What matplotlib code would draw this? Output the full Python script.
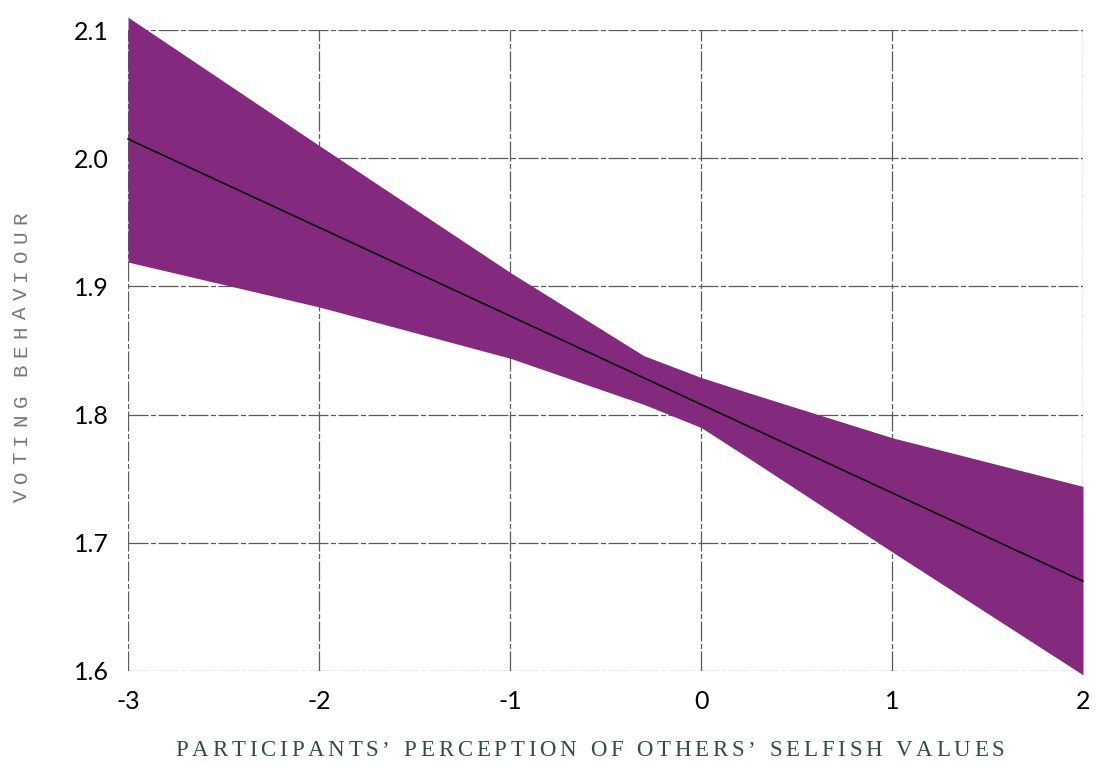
import matplotlib
matplotlib.use("Agg")
import matplotlib.pyplot as plt

plt.rcParams['axes.unicode_minus'] = False

# regression line and its confidence band
fit_x = [-3, 2]
fit_y = [2.015, 1.670]

band_x = [-3, -2, -1, -0.3, 0, 0.25, 1, 2]
band_hi = [2.110, 2.010, 1.911, 1.846, 1.829, 1.817, 1.782, 1.744]
band_lo = [1.919, 1.884, 1.844, 1.808, 1.790, 1.766, 1.693, 1.597]

x_ticks = [-3, -2, -1, 0, 1, 2]
y_ticks = [1.6, 1.7, 1.8, 1.9, 2.0, 2.1]
y_ticklabels = ['1.6', '1.7', '1.8', '1.9', '2.0', '2.1']

x_label = "PARTICIPANTS\u2019 PERCEPTION OF OTHERS\u2019 SELFISH VALUES"
y_label = "VOTING BEHAVIOUR"

W, H = 1097, 776
fig = plt.figure(figsize=(W / 100, H / 100), dpi=100)
ax = fig.add_axes([128 / W, 1 - 671 / H, (1083 - 128) / W, (671 - 30) / H])

# grid drawn by hand so the border is part of it
grid_kw = dict(color='#5a5a5a', lw=0.9, linestyle=(0, (16, 2, 4, 2)), zorder=1)
for xv in x_ticks:
    ax.axvline(xv, **grid_kw)
for yv in y_ticks:
    ax.axhline(yv, **grid_kw)

ax.fill_between(band_x, band_lo, band_hi, color='#832a7e', lw=0, zorder=2, clip_on=False)
ax.plot(fit_x, fit_y, color='black', lw=1.1, zorder=3, clip_on=False)

ax.set_xlim(-3, 2)
ax.set_ylim(1.6, 2.1)
ax.set_xticks(x_ticks)
ax.set_xticklabels([str(v) for v in x_ticks])
ax.set_yticks(y_ticks)
ax.set_yticklabels(y_ticklabels)
for s in ax.spines.values():
    s.set_visible(False)
ax.tick_params(length=0, labelsize=18, colors='black')
ax.tick_params(axis='y', pad=14)
ax.tick_params(axis='x', pad=14)
for lab in ax.get_xticklabels() + ax.get_yticklabels():
    lab.set_family('Lato')


def spaced_text(s, cx, cy, size, family, color, track, vertical=False):
    # letter-spaced text, centred on (cx, cy) in pixels from the top-left
    r = fig.canvas.get_renderer()
    widths = []
    for ch in s:
        if ch == ' ':
            widths.append(size * 0.35)
            continue
        t = fig.text(0, 0, ch, size=size, family=family)
        widths.append(t.get_window_extent(r).width)
        t.remove()
    total = sum(widths) + track * (len(s) - 1)
    pos = -total / 2
    for ch, w in zip(s, widths):
        if ch != ' ':
            if vertical:
                fig.text(cx / W, 1 - cy / H + pos / H, ch, size=size, family=family,
                         color=color, rotation=90, ha='center', va='bottom')
            else:
                fig.text((cx + pos) / W, 1 - cy / H, ch, size=size, family=family,
                         color=color, ha='left', va='center')
        pos += w + track


spaced_text(x_label, 590, 751, 16.5, 'Liberation Serif', '#2f4f44', 3.8)
spaced_text(y_label, 21, 357, 15, 'Liberation Mono', '#777777', 6.5, vertical=True)

fig.savefig('out.png', dpi=100)
